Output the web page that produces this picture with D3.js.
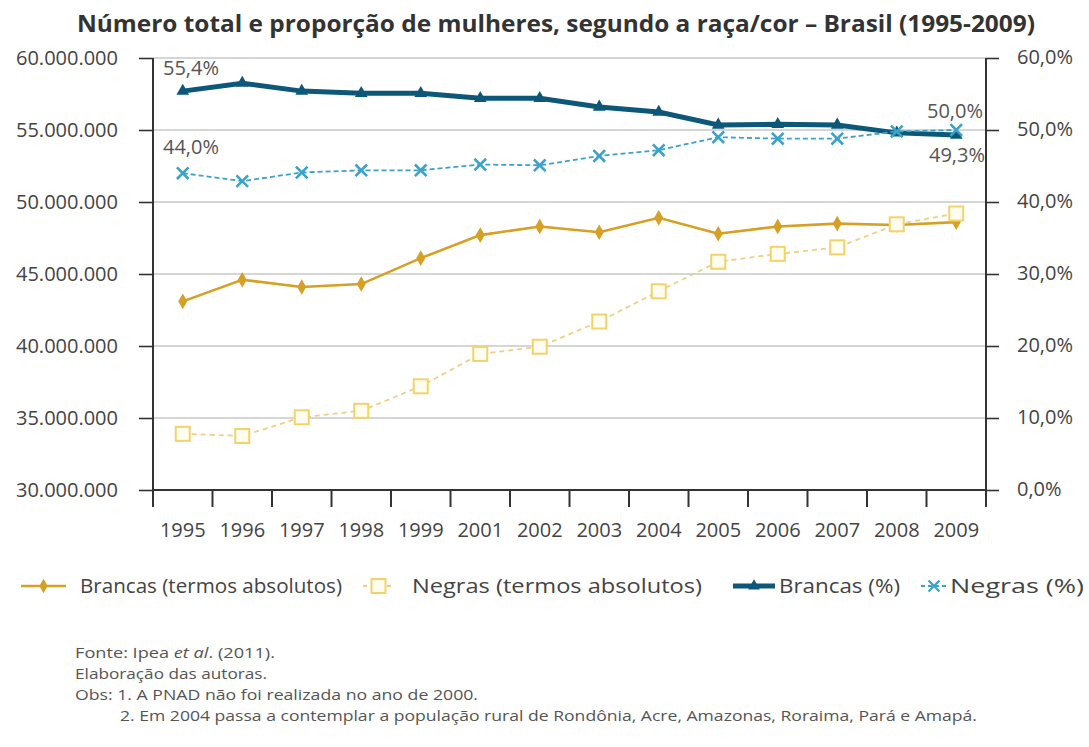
<!DOCTYPE html>
<html>
<head>
<meta charset="utf-8">
<script src="https://cdn.jsdelivr.net/npm/d3@7"></script>
<style>
  body { margin: 0; background: #fff; }
  svg { display: block; font-family: "Open Sans", sans-serif; }
</style>
</head>
<body>
<div id="chart"></div>
<script>
// Categories (no survey in 2000)
const years = ["1995", "1996", "1997", "1998", "1999", "2001", "2002", "2003", "2004", "2005", "2006", "2007", "2008", "2009"];

// Absolute numbers (women)
const brancasAbs = [43100000, 44600000, 44100000, 44300000, 46100000, 47700000, 48300000, 47900000, 48900000, 47800000, 48300000, 48500000, 48400000, 48600000];
const negrasAbs  = [33900000, 33750000, 35050000, 35500000, 37200000, 39450000, 39950000, 41700000, 43800000, 45850000, 46400000, 46850000, 48450000, 49200000];

// Proportions (%)
const brancasPct = [55.4, 56.5, 55.4, 55.1, 55.1, 54.4, 54.4, 53.2, 52.5, 50.7, 50.8, 50.7, 49.6, 49.3];
const negrasPct  = [44.0, 42.9, 44.1, 44.4, 44.4, 45.2, 45.1, 46.4, 47.2, 49.0, 48.8, 48.8, 49.8, 50.0];

// Axis ticks
const leftTicks = [30000000, 35000000, 40000000, 45000000, 50000000, 55000000, 60000000];
const rightTicks = [0, 10, 20, 30, 40, 50, 60];

const COLORS = {
    brancasAbs: "#d6a024",
    negrasAbs: "#f2d36a",
    negrasAbsLine: "#efcf86",
    brancasPct: "#0d5878",
    negrasPct: "#3ba2c8"
};

const width = 1089;
const height = 747;

const ptBR = d3.formatLocale({ decimal: ",", thousands: ".", grouping: [3], currency: ["R$", ""] });
const fmtInt = ptBR.format(",d");
const fmtPct = ptBR.format(".1f");

const svg = d3.select("#chart").append("svg")
    .attr("width", width)
    .attr("height", height);

svg.append("rect").attr("width", width).attr("height", height).attr("fill", "#fff");

// Scales
const x = d3.scaleBand().domain(years).range([153, 986]);
const yL = d3.scaleLinear().domain([30000000, 60000000]).range([490, 58]);
const yR = d3.scaleLinear().domain([0, 60]).range([490, 58]);
const cx = d => x(d) + x.bandwidth() / 2;

// Title
svg.append("text")
    .attr("x", 556)
    .attr("y", 32)
    .attr("text-anchor", "middle")
    .attr("textLength", 958)
    .attr("lengthAdjust", "spacingAndGlyphs")
    .style("font-size", "24px")
    .style("font-weight", "bold")
    .style("fill", "#333")
    .text("Número total e proporção de mulheres, segundo a raça/cor – Brasil (1995-2009)");

// Gridlines
svg.append("g")
    .selectAll("line")
    .data(leftTicks.slice(1))
    .join("line")
    .attr("x1", x.range()[0])
    .attr("x2", x.range()[1])
    .attr("y1", d => yL(d))
    .attr("y2", d => yL(d))
    .attr("stroke", "#c8c8c8")
    .attr("stroke-width", 1.6);

// Left axis
const leftAxis = svg.append("g")
    .attr("transform", `translate(${x.range()[0]},0)`)
    .call(d3.axisLeft(yL).tickValues(leftTicks).tickFormat(fmtInt).tickSize(14).tickPadding(21));
leftAxis.select(".domain").remove();
leftAxis.selectAll(".tick line").attr("stroke", "#333").attr("stroke-width", 1.6);
leftAxis.selectAll("text")
    .style("font-size", "20px")
    .style("font-family", "Open Sans, sans-serif")
    .style("fill", "#444");

// Right axis
const rightAxis = svg.append("g")
    .attr("transform", `translate(${x.range()[1]},0)`)
    .call(d3.axisRight(yR).tickValues(rightTicks).tickFormat(d => fmtPct(d) + "%").tickSize(13).tickPadding(18));
rightAxis.select(".domain").remove();
rightAxis.selectAll(".tick line").attr("stroke", "#333").attr("stroke-width", 1.6);
rightAxis.selectAll("text")
    .attr("dy", "0.28em")
    .style("font-size", "20px")
    .style("font-family", "Open Sans, sans-serif")
    .style("fill", "#444");

// Axis lines
const axisBottom = yL.range()[0];
svg.append("line")
    .attr("x1", x.range()[0]).attr("x2", x.range()[0])
    .attr("y1", yL.range()[1]).attr("y2", axisBottom + 17)
    .attr("stroke", "#333").attr("stroke-width", 2);
svg.append("line")
    .attr("x1", x.range()[1]).attr("x2", x.range()[1])
    .attr("y1", yR.range()[1]).attr("y2", axisBottom + 17)
    .attr("stroke", "#333").attr("stroke-width", 2);
svg.append("line")
    .attr("x1", x.range()[0]).attr("x2", x.range()[1])
    .attr("y1", axisBottom).attr("y2", axisBottom)
    .attr("stroke", "#333").attr("stroke-width", 2.2);

// X axis ticks at band edges and labels at band centers
svg.append("g")
    .selectAll("line")
    .data(years.slice(1))
    .join("line")
    .attr("x1", d => x(d)).attr("x2", d => x(d))
    .attr("y1", axisBottom).attr("y2", axisBottom + 17)
    .attr("stroke", "#333").attr("stroke-width", 2);

svg.append("g")
    .selectAll("text")
    .data(years)
    .join("text")
    .attr("x", d => cx(d))
    .attr("y", 537)
    .attr("text-anchor", "middle")
    .style("font-size", "20px")
    .style("fill", "#444")
    .text(d => d);

// Series helpers
const lineL = d3.line().x((d, i) => cx(years[i])).y(d => yL(d));
const lineR = d3.line().x((d, i) => cx(years[i])).y(d => yR(d));

// Brancas (termos absolutos)
svg.append("path")
    .datum(brancasAbs)
    .attr("d", lineL)
    .attr("fill", "none")
    .attr("stroke", COLORS.brancasAbs)
    .attr("stroke-width", 2.6);
svg.append("g")
    .selectAll("path")
    .data(brancasAbs)
    .join("path")
    .attr("transform", (d, i) => `translate(${cx(years[i])},${yL(d)})`)
    .attr("d", d3.symbol(d3.symbolDiamond, 70))
    .attr("fill", COLORS.brancasAbs);

// Negras (termos absolutos)
svg.append("path")
    .datum(negrasAbs)
    .attr("d", lineL)
    .attr("fill", "none")
    .attr("stroke", COLORS.negrasAbsLine)
    .attr("stroke-width", 1.8)
    .attr("stroke-dasharray", "5,4");
svg.append("g")
    .selectAll("rect")
    .data(negrasAbs)
    .join("rect")
    .attr("x", (d, i) => cx(years[i]) - 7)
    .attr("y", d => yL(d) - 7)
    .attr("width", 14)
    .attr("height", 14)
    .attr("fill", "#fffdf0")
    .attr("stroke", COLORS.negrasAbs)
    .attr("stroke-width", 2);

// Brancas (%)
svg.append("path")
    .datum(brancasPct)
    .attr("d", lineR)
    .attr("fill", "none")
    .attr("stroke", COLORS.brancasPct)
    .attr("stroke-width", 5);
svg.append("g")
    .selectAll("path")
    .data(brancasPct)
    .join("path")
    .attr("transform", (d, i) => `translate(${cx(years[i])},${yR(d)})`)
    .attr("d", d3.symbol(d3.symbolTriangle, 70))
    .attr("fill", COLORS.brancasPct);

// Negras (%)
svg.append("path")
    .datum(negrasPct)
    .attr("d", lineR)
    .attr("fill", "none")
    .attr("stroke", COLORS.negrasPct)
    .attr("stroke-width", 1.8)
    .attr("stroke-dasharray", "5,3");
svg.append("g")
    .selectAll("path")
    .data(negrasPct)
    .join("path")
    .attr("transform", (d, i) => `translate(${cx(years[i])},${yR(d)})`)
    .attr("d", d3.symbol(d3.symbolX, 90))
    .attr("fill", "none")
    .attr("stroke", COLORS.negrasPct)
    .attr("stroke-width", 2.6);

// Value labels (first and last proportions)
const last = years.length - 1;
const valueLabels = [
    { v: brancasPct[0], x: x(years[0]) + 10, y: 75, anchor: "start" },
    { v: negrasPct[0], x: x(years[0]) + 10, y: 154, anchor: "start" },
    { v: negrasPct[last], x: x.range()[1] - 3, y: 118, anchor: "end" },
    { v: brancasPct[last], x: x.range()[1] - 1, y: 162, anchor: "end" }
];
svg.append("g")
    .selectAll("text")
    .data(valueLabels)
    .join("text")
    .attr("x", d => d.x)
    .attr("y", d => d.y)
    .attr("text-anchor", d => d.anchor)
    .style("font-size", "20px")
    .style("fill", "#555")
    .text(d => fmtPct(d.v) + "%");

// Legend
const legendY = 586;
const legendItems = [
    { label: "Brancas (termos absolutos)", x0: 21, x1: 66, tx: 80, tw: 262, key: "brancasAbs" },
    { label: "Negras (termos absolutos)", x0: 363, x1: 394, tx: 412, tw: 290, key: "negrasAbs" },
    { label: "Brancas (%)", x0: 733, x1: 775, tx: 779, tw: 121, key: "brancasPct" },
    { label: "Negras (%)", x0: 921, x1: 947, tx: 950, tw: 134, key: "negrasPct" }
];

const legend = svg.append("g");
legendItems.forEach(item => {
    const mid = (item.x0 + item.x1) / 2;
    const ln = legend.append("line")
        .attr("x1", item.x0).attr("x2", item.x1)
        .attr("y1", legendY).attr("y2", legendY);
    if (item.key === "brancasAbs") {
        ln.attr("stroke", COLORS.brancasAbs).attr("stroke-width", 2.6);
        legend.append("path")
            .attr("transform", `translate(${mid},${legendY})`)
            .attr("d", d3.symbol(d3.symbolDiamond, 60))
            .attr("fill", COLORS.brancasAbs);
    } else if (item.key === "negrasAbs") {
        ln.attr("stroke", COLORS.negrasAbsLine).attr("stroke-width", 1.8).attr("stroke-dasharray", "4,4");
        legend.append("rect")
            .attr("x", mid - 7).attr("y", legendY - 7)
            .attr("width", 14).attr("height", 14)
            .attr("fill", "#fffdf0")
            .attr("stroke", COLORS.negrasAbs).attr("stroke-width", 2);
    } else if (item.key === "brancasPct") {
        ln.attr("stroke", COLORS.brancasPct).attr("stroke-width", 5);
        legend.append("path")
            .attr("transform", `translate(${mid},${legendY})`)
            .attr("d", d3.symbol(d3.symbolTriangle, 60))
            .attr("fill", COLORS.brancasPct);
    } else {
        ln.attr("stroke", COLORS.negrasPct).attr("stroke-width", 1.8).attr("stroke-dasharray", "4,3");
        legend.append("path")
            .attr("transform", `translate(${mid},${legendY})`)
            .attr("d", d3.symbol(d3.symbolX, 80))
            .attr("fill", "none")
            .attr("stroke", COLORS.negrasPct)
            .attr("stroke-width", 2.2);
    }
    legend.append("text")
        .attr("x", item.tx)
        .attr("y", legendY + 7)
        .attr("textLength", item.tw)
        .attr("lengthAdjust", "spacingAndGlyphs")
        .style("font-size", "20px")
        .style("fill", "#444")
        .text(item.label);
});

// Notes
const notes = svg.append("g")
    .style("font-size", "15px")
    .style("fill", "#555");

const fonte = notes.append("text")
    .attr("x", 75).attr("y", 658)
    .attr("textLength", 200).attr("lengthAdjust", "spacingAndGlyphs");
fonte.append("tspan").text("Fonte: Ipea ");
fonte.append("tspan").style("font-style", "italic").text("et al");
fonte.append("tspan").text(". (2011).");

notes.append("text")
    .attr("x", 75).attr("y", 679)
    .attr("textLength", 192).attr("lengthAdjust", "spacingAndGlyphs")
    .text("Elaboração das autoras.");
notes.append("text")
    .attr("x", 75).attr("y", 700)
    .attr("textLength", 403).attr("lengthAdjust", "spacingAndGlyphs")
    .text("Obs: 1. A PNAD não foi realizada no ano de 2000.");
notes.append("text")
    .attr("x", 120).attr("y", 721)
    .attr("textLength", 857).attr("lengthAdjust", "spacingAndGlyphs")
    .text("2. Em 2004 passa a contemplar a população rural de Rondônia, Acre, Amazonas, Roraima, Pará e Amapá.");
</script>
</body>
</html>
